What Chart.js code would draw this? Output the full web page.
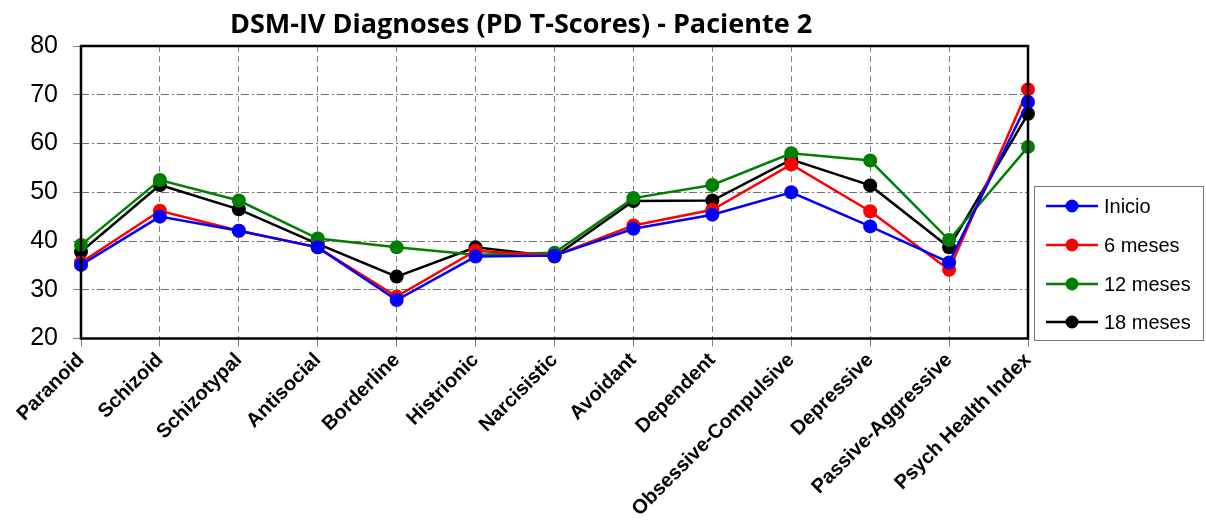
<!DOCTYPE html>
<html>
<head>
<meta charset="utf-8">
<script src="https://cdn.jsdelivr.net/npm/chart.js@4/dist/chart.umd.min.js"></script>
<style>
  html, body { margin: 0; padding: 0; background: #fff; }
  #wrap { width: 1206px; height: 529px; }
</style>
</head>
<body>
<div id="wrap"><canvas id="chart"></canvas></div>
<script>
const categories = ['Paranoid', 'Schizoid', 'Schizotypal', 'Antisocial', 'Borderline', 'Histrionic',
  'Narcisistic', 'Avoidant', 'Dependent', 'Obsessive-Compulsive', 'Depressive', 'Passive-Aggressive',
  'Psych Health Index'];

const inicio   = [35.1, 45.0, 42.1, 38.7, 27.9, 36.8, 37.0, 42.5, 45.4, 50.0, 43.0, 35.6, 68.5];
const meses6   = [35.6, 46.2, 42.1, 38.7, 28.6, 38.0, 37.0, 43.2, 46.4, 55.7, 46.1, 34.1, 71.1];
const meses12  = [39.2, 52.5, 48.3, 40.5, 38.7, 37.2, 37.6, 48.8, 51.5, 58.0, 56.5, 40.2, 59.3];
const meses18  = [37.8, 51.5, 46.5, 39.4, 32.7, 38.7, 36.8, 48.2, 48.3, 56.7, 51.4, 38.7, 66.1];

const seriesNames = ['Inicio', '6 meses', '12 meses', '18 meses'];
const seriesColors = ['#0000ff', '#ff0000', '#008000', '#000000'];

const titleText = 'DSM-IV Diagnoses (PD T-Scores) - Paciente 2';

const makeSet = (i, data) => ({
  label: seriesNames[i],
  data: data,
  borderColor: seriesColors[i],
  backgroundColor: seriesColors[i],
  borderWidth: 2.5,
  pointRadius: 7,
  pointHoverRadius: 7,
  pointBorderWidth: 0,
  tension: 0
});

// draws title, frame round the plot and the boxed legend
const extras = {
  id: 'extras',
  afterDraw(chart) {
    const ctx = chart.ctx;
    const a = chart.chartArea;
    ctx.save();
    ctx.strokeStyle = '#000';
    ctx.lineWidth = 2.5;
    ctx.strokeRect(a.left, a.top, a.right - a.left, a.bottom - a.top);

    ctx.fillStyle = '#000';
    ctx.font = 'bold 27px "Open Sans", "Liberation Sans", sans-serif';
    ctx.textAlign = 'center';
    ctx.textBaseline = 'middle';
    ctx.fillText(titleText, 521, 25);

    // legend
    ctx.strokeStyle = '#777';
    ctx.lineWidth = 1;
    ctx.strokeRect(1034.5, 186.5, 169, 154);
    const rows = [206, 245, 284, 322];
    ctx.font = '20px "Liberation Sans", Arial, sans-serif';
    ctx.textAlign = 'left';
    chart.data.datasets.forEach((ds, i) => {
      const y = rows[i];
      ctx.strokeStyle = ds.borderColor;
      ctx.lineWidth = 2.5;
      ctx.beginPath();
      ctx.moveTo(1046, y);
      ctx.lineTo(1098, y);
      ctx.stroke();
      ctx.fillStyle = ds.borderColor;
      ctx.beginPath();
      ctx.arc(1072, y, 6.5, 0, Math.PI * 2);
      ctx.fill();
      ctx.fillStyle = '#000';
      ctx.fillText(ds.label, 1104, y + 1);
    });
    ctx.restore();
  }
};

new Chart(document.getElementById('chart'), {
  type: 'line',
  data: {
    labels: categories,
    datasets: [makeSet(0, inicio), makeSet(1, meses6), makeSet(2, meses12), makeSet(3, meses18)]
  },
  options: {
    responsive: true,
    maintainAspectRatio: false,
    animation: false,
    layout: { padding: { top: 46, right: 178, left: 0, bottom: 0 } },
    plugins: {
      legend: { display: false },
      title: { display: false },
      tooltip: { enabled: false }
    },
    scales: {
      x: {
        offset: false,
        afterFit: (scale) => { scale.height = 190.5; },
        grid: {
          color: '#808080',
          lineWidth: 1,
          tickLength: 8,
          tickColor: '#808080'
        },
        border: { display: false, dash: [6, 4] },
        ticks: {
          color: '#000',
          maxRotation: 45,
          minRotation: 45,
          padding: 2,
          autoSkip: false,
          font: { family: '"Liberation Sans", Arial, sans-serif', size: 20, weight: 'bold' }
        }
      },
      y: {
        min: 20,
        max: 80,
        afterFit: (scale) => { scale.width = 81; },
        grid: {
          color: '#707070',
          lineWidth: 1,
          tickLength: 8,
          tickColor: '#808080'
        },
        border: { display: false, dash: [8, 3, 2, 3] },
        ticks: {
          stepSize: 10,
          color: '#000',
          padding: 15,
          font: { family: '"Liberation Sans", Arial, sans-serif', size: 25 }
        }
      }
    }
  },
  plugins: [extras]
});
</script>
</body>
</html>
